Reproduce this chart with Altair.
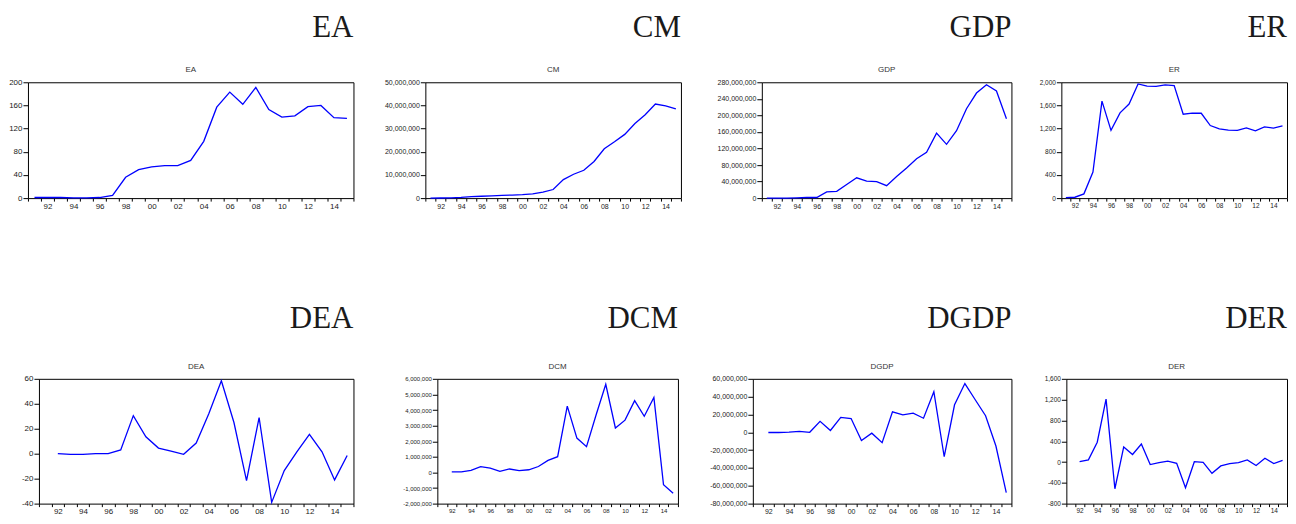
import altair as alt
import pandas as pd

# ---------------- data ----------------
YEARS = [1991, 1992, 1993, 1994, 1995, 1996, 1997, 1998, 1999, 2000, 2001, 2002, 2003,
         2004, 2005, 2006, 2007, 2008, 2009, 2010, 2011, 2012, 2013, 2014, 2015]
DYEARS = YEARS[1:]

EA = [1, 1, 1, 0.5, 0.5, 1, 4.5, 36, 49, 54, 56, 56, 65, 98, 157, 183, 162, 191, 153,
      140, 142, 158, 160, 139, 137.5]
CM = [0, 50000, 100000, 300000, 600000, 800000, 1000000, 1200000, 1300000, 1500000,
      1800000, 2600000, 3700000, 8000000, 10300000, 12000000, 15800000, 21300000,
      24300000, 27500000, 32200000, 36000000, 40600000, 39800000, 38500000]
GDP = [0, 0, 0, 500000, 1500000, 1500000, 15000000, 16500000, 33000000, 49000000,
       41000000, 40000000, 30000000, 52000000, 73000000, 95000000, 111000000, 157000000,
       130000000, 163000000, 216000000, 254000000, 274000000, 259000000, 192000000]
ER = [8, 15, 73, 449, 1674, 1169, 1472, 1624, 1972, 1933, 1930, 1955, 1944, 1449, 1466,
      1465, 1253, 1197, 1175, 1169, 1213, 1163, 1230, 1210, 1247]

DEA = [0, -0.5, -0.5, 0, 0, 3, 30.5, 13.5, 4.5, 2, -0.5, 8.5, 32, 58.5, 25, -21.5, 29,
       -39, -13.5, 1.5, 15.5, 1.5, -21, -1.5]
DCM = [30000, 40000, 130000, 370000, 280000, 70000, 220000, 120000, 170000, 380000,
       770000, 1010000, 4250000, 2200000, 1650000, 3700000, 5650000, 2850000, 3350000,
       4600000, 3600000, 4800000, -790000, -1330000]
DGDP = [-200000, -200000, 200000, 1000000, 0, 12300000, 2000000, 16800000, 15400000,
        -9100000, -1000000, -11600000, 23000000, 19600000, 21400000, 15800000, 45600000,
        -27400000, 30900000, 54700000, 36500000, 18600000, -15400000, -67700000]
DER = [6, 42, 381, 1209, -514, 290, 145, 345, -48, -10, 18, -24, -496, 6, -5, -218, -75,
       -30, -12, 42, -66, 73, -30, 30]

Y_TICKS = {
    "EA": [0, 40, 80, 120, 160, 200],
    "CM": [0, 10000000, 20000000, 30000000, 40000000, 50000000],
    "GDP": [0, 40000000, 80000000, 120000000, 160000000, 200000000, 240000000, 280000000],
    "ER": [0, 400, 800, 1200, 1600, 2000],
    "DEA": [-40, -20, 0, 20, 40, 60],
    "DCM": [-2000000, -1000000, 0, 1000000, 2000000, 3000000, 4000000, 5000000, 6000000],
    "DGDP": [-80000000, -60000000, -40000000, -20000000, 0, 20000000, 40000000, 60000000],
    "DER": [-800, -400, 0, 400, 800, 1200, 1600],
}

X_LABEL_YEARS = [1992, 1994, 1996, 1998, 2000, 2002, 2004, 2006, 2008, 2010, 2012, 2014]
X_DOMAIN = [1990.5, 2015.5]

# ---------------- styling / layout ----------------
LABEL_FONT = "Liberation Sans"
TITLE_FONT = "Liberation Serif"
H1, H2 = 116, 125
ROW_GAP = 181


def panel(name, years, values, width, height, fs, big_dy):
    df = pd.DataFrame({"year": years, "value": values})
    yt = Y_TICKS[name]
    x_vals = [y - 0.5 for y in YEARS] + [YEARS[-1] + 0.5] + X_LABEL_YEARS
    line = alt.Chart(df).mark_line(color="#0000ff", strokeWidth=1.3).encode(
        x=alt.X("year:Q",
                scale=alt.Scale(domain=X_DOMAIN, nice=False, zero=False),
                axis=alt.Axis(title=None, values=x_vals, grid=False, domain=False,
                              labelExpr="datum.value % 2 == 0 ? format(datum.value % 100, '02d') : ''",
                              labelOverlap=False, labelFlush=False,
                              labelFont=LABEL_FONT, labelFontSize=fs, labelColor="#222",
                              labelPadding=1, tickSize=3, tickColor="#000",
                              tickOpacity={"condition": {"test": "datum.value % 1 == 0", "value": 0},
                                           "value": 1})),
        y=alt.Y("value:Q",
                scale=alt.Scale(domain=[yt[0], yt[-1]], nice=False, zero=False),
                axis=alt.Axis(title=None, values=yt, grid=False, domain=False,
                              labelExpr="(datum.value < 0 ? '-' : '') + format(abs(datum.value), ',d')",
                              labelOverlap=False, labelFlush=False,
                              labelFont=LABEL_FONT, labelFontSize=fs, labelColor="#222",
                              labelPadding=1, tickSize=5, tickColor="#000")),
    )
    tdf = pd.DataFrame({"t": [name]})
    small = alt.Chart(tdf).mark_text(font=LABEL_FONT, fontSize=8, color="#333",
                                     align="center", baseline="alphabetic").encode(
        text="t:N", x=alt.value(width / 2), y=alt.value(-10))
    big = alt.Chart(tdf).mark_text(font=TITLE_FONT, fontSize=31, color="#1a1a1a",
                                   align="right", baseline="alphabetic").encode(
        text="t:N", x=alt.value(width), y=alt.value(-big_dy))
    return alt.layer(line, small, big).properties(
        width=width, height=height,
        view=alt.ViewBackground(stroke="#000", strokeWidth=1))


def spacer(w, h):
    return alt.Chart(pd.DataFrame({"a": [0]})).mark_point(opacity=0, size=1).encode(
        x=alt.value(1), y=alt.value(1)).properties(
        width=w, height=h, view=alt.ViewBackground(stroke="transparent"))


row1 = alt.hconcat(
    panel("EA", YEARS, EA, 326, H1, 8, 45),
    spacer(72, H1),
    panel("CM", YEARS, CM, 256, H1, 7, 45),
    spacer(81, H1),
    panel("GDP", YEARS, GDP, 250, H1, 7, 45),
    spacer(50, H1),
    panel("ER", YEARS, ER, 226, H1, 6.5, 45),
    spacing=0, bounds="flush")

row2 = alt.hconcat(
    spacer(11, H2),
    panel("DEA", DYEARS, DEA, 315, H2, 8, 51),
    spacer(84, H2),
    panel("DCM", DYEARS, DCM, 241, H2, 6, 51),
    spacer(75, H2),
    panel("DGDP", DYEARS, DGDP, 259, H2, 7, 51),
    spacer(55, H2),
    panel("DER", DYEARS, DER, 221, H2, 6.5, 51),
    spacing=0, bounds="flush")

# with flush bounds the nested rows count as zero-height, so the spacing
# is the full distance from the top of row 1 to the top of row 2
chart = alt.vconcat(row1, row2, spacing=H1 + ROW_GAP, bounds="flush").properties(
    padding={"top": 3, "left": 0, "right": 0, "bottom": 0},
    background="white",
)

chart.save("out.html", embed_options={"renderer": "svg", "actions": False})
